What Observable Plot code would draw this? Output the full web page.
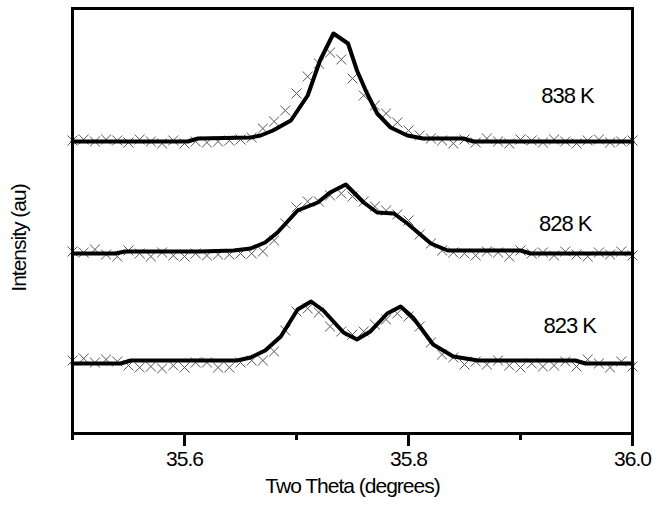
<!DOCTYPE html>
<html><head><meta charset="utf-8">
<script src="https://cdn.jsdelivr.net/npm/d3@7"></script>
<script src="https://cdn.jsdelivr.net/npm/@observablehq/plot@0.6"></script>
<style>body{margin:0;background:#fff}#chart{width:653px;height:506px}svg text{letter-spacing:-1px}</style>
</head><body><div id="chart"></div>
<script>
// measurement grid (two theta, degrees)
const gridX = [35.50,35.51,35.52,35.53,35.54,35.55,35.56,35.57,35.58,35.59,
  35.60,35.61,35.62,35.63,35.64,35.65,35.66,35.67,35.68,35.69,
  35.70,35.71,35.72,35.73,35.74,35.75,35.76,35.77,35.78,35.79,
  35.80,35.81,35.82,35.83,35.84,35.85,35.86,35.87,35.88,35.89,
  35.90,35.91,35.92,35.93,35.94,35.95,35.96,35.97,35.98,35.99,36.00];

const series = ["823 K", "828 K", "838 K"];
const offsets = [70, 180, 292];   // vertical stacking offsets (au)

// measured intensities (au, relative to each baseline)
const meas823 = [3,5,1,4,2,-2,-4,-3,-5,-2,-4,1,
  1,-4,-4,1,3,3,12,33,52,55,51,37,32,29,32,39,44,50,47,37,21,9,6,-1,2,-1,
  3,-2,-4,0,-3,-2,2,-3,4,0,-4,2,-3];
const meas828 = [2,1,4,-1,-3,3,0,-3,1,-2,-3,0,-2,-1,
  -1,0,0,2,13,30,46,52,52,58,60,57,52,47,43,39,33,19,10,3,1,
  0,-2,2,1,-3,3,0,1,-2,2,-1,-3,1,-1,2,-2];
const meas838 = [1,2,0,2,1,-1,2,0,-2,1,-2,0,-1,0,1,2,4,
  13,20,31,48,65,78,89,82,63,46,36,28,19,11,6,3,
  1,-2,2,-1,3,0,-2,2,1,-1,2,0,-2,1,2,-1,0,1];

// fitted curves
const fit823X = [35.500,35.543,35.552,35.647,35.659,35.672,35.686,35.701,35.713,35.724,35.742,35.754,35.766,35.781,35.793,35.804,35.822,35.840,35.862,35.949,35.958,36.000];
const fit823Y = [0,0,3,3,6,13,27,54,62,53,31,24,32,50,57,46,19,7,3,3,0,0];
const fit828X = [35.500,35.538,35.547,35.614,35.644,35.659,35.672,35.683,35.701,35.719,35.730,35.744,35.760,35.772,35.787,35.799,35.820,35.835,35.853,35.900,35.909,36.000];
const fit828Y = [0,0,2,2,3,5,11,21,43,51,61,69,51,41,40,30,10,3,3,3,0,0];
const fit838X = [35.500,35.603,35.612,35.659,35.668,35.679,35.695,35.710,35.721,35.733,35.746,35.754,35.763,35.772,35.784,35.799,35.813,35.849,35.858,36.000];
const fit838Y = [0,0,3,4,6,11,21,46,81,108,98,71,48,28,14,6,3,3,0,0];

// labels
const labelX = [35.944, 35.94, 35.942];
const labelY = [108, 210, 338];

const majorTicks = [35.6, 35.8, 36.0];
const minorTicks = [35.5, 35.7, 35.9];

const meas = [meas823, meas828, meas838];
const fitsX = [fit823X, fit828X, fit838X];
const fitsY = [fit823Y, fit828Y, fit838Y];

const crossData = [];
const fitData = [];
series.forEach((s, i) => {
  meas[i].forEach((v, k) => crossData.push({series: s, x: gridX[k], y: offsets[i] + v}));
  fitsX[i].forEach((x, k) => fitData.push({series: s, x, y: offsets[i] + fitsY[i][k]}));
});
const labels = series.map((s, i) => ({text: s, x: labelX[i], y: labelY[i]}));

const plot = Plot.plot({
  width: 653, height: 506,
  marginLeft: 72, marginRight: 21, marginTop: 8, marginBottom: 73,
  x: {domain: [35.5, 36.0]},
  y: {domain: [0, 425], axis: null},
  style: {fontFamily: "'Liberation Sans', Arial, sans-serif", fontSize: "21px", color: "black", background: "white"},
  marks: [
    Plot.dot(crossData, {x: "x", y: "y", symbol: "times", r: 4.6, stroke: "#555", strokeWidth: 1}),
    Plot.line(fitData, {x: "x", y: "y", z: "series", stroke: "black", strokeWidth: 4, strokeLinejoin: "round"}),
    Plot.text(labels, {x: "x", y: "y", text: "text", fontSize: 22, fill: "black"}),
    Plot.frame({stroke: "black", strokeWidth: 3}),
    Plot.axisX({ticks: majorTicks, tickSize: 13, tickPadding: 5, strokeWidth: 3, tickFormat: d => d.toFixed(1), label: null, fontSize: 21}),
    Plot.axisX({ticks: minorTicks, tickSize: 7, strokeWidth: 3, tickFormat: () => "", label: null}),
    Plot.text(["Two Theta (degrees)"], {text: d => d, frameAnchor: "bottom", dy: 59, fontSize: 21, fill: "black"}),
    Plot.text(["Intensity (au)"], {text: d => d, frameAnchor: "left", textAnchor: "middle", dx: -53, dy: 17, rotate: -90, fontSize: 21, fill: "black"})
  ]
});
document.getElementById("chart").appendChild(plot);
</script>
</body></html>
